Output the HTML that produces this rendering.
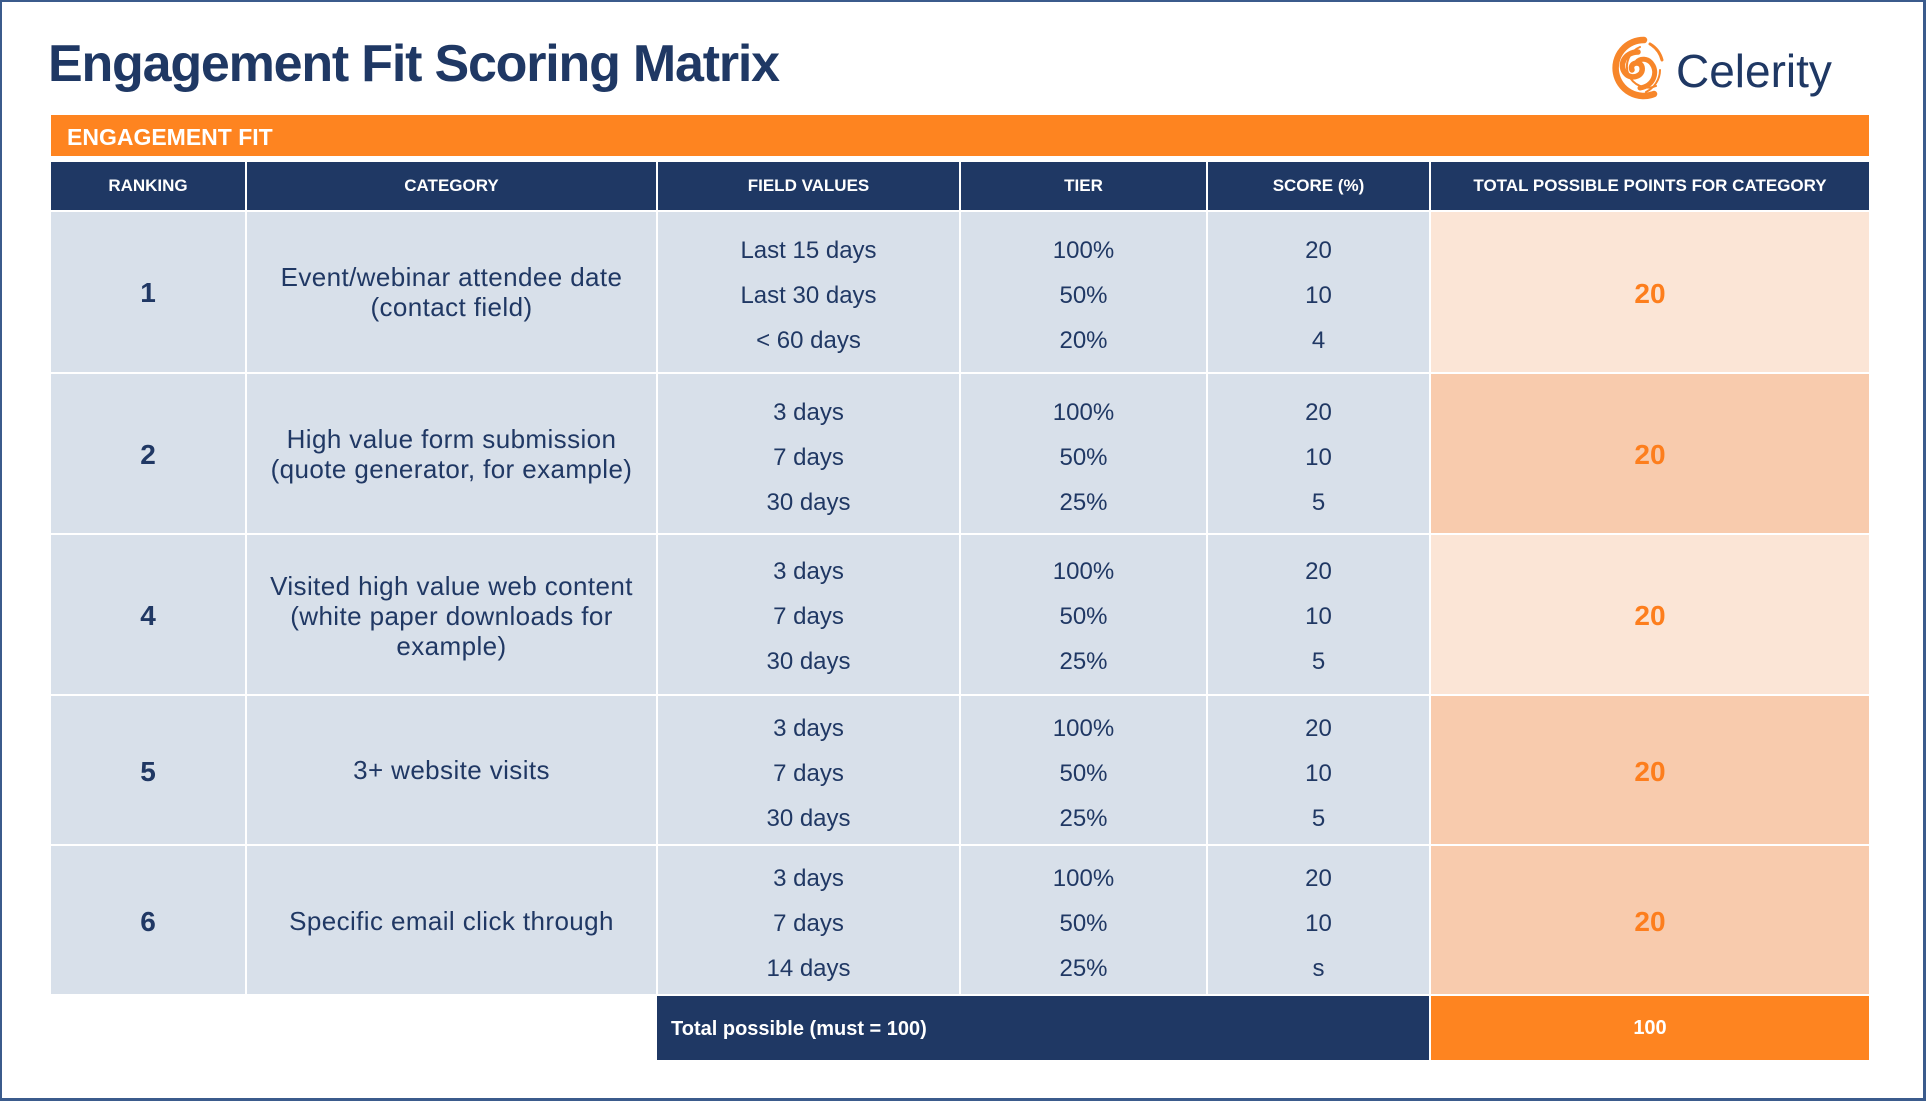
<!DOCTYPE html>
<html><head><meta charset="utf-8">
<style>
*{margin:0;padding:0;box-sizing:border-box}
html,body{width:1926px;height:1101px;overflow:hidden;background:#fff}
body{position:relative;font-family:"Liberation Sans",Arial,sans-serif;color:#203864}
.a{position:absolute}
.frame{left:0;top:0;width:1926px;height:1101px;border-top:2px solid #3b5b8c;border-left:2px solid #3b5b8c;border-right:3px solid #3b5b8c;border-bottom:3px solid #3b5b8c}
.title{left:48px;top:38px;font-size:52px;line-height:52px;font-weight:bold;color:#1f3864;letter-spacing:-1.2px;white-space:nowrap}
.logo{left:1676px;top:48px;font-size:46px;line-height:46px;color:#1f3864;white-space:nowrap}
.bar{left:51px;top:115px;width:1818px;height:41px;background:#fe8420}
.bartxt{left:67px;top:126px;font-size:23px;line-height:23px;font-weight:bold;color:#fff;white-space:nowrap}
.hd{top:162px;height:48px;background:#1f3864;color:#fff;font-weight:bold;font-size:17px;display:flex;align-items:center;justify-content:center;white-space:nowrap}
.lb{background:#d8e0ea}
.pk1{background:#fbe5d6}
.pk2{background:#f8cbad}
.rk{font-size:28px;font-weight:bold;text-align:center;height:40px;line-height:40px}
.cat{font-size:26px;text-align:center;line-height:30px;letter-spacing:0.4px;white-space:nowrap}
.ln{font-size:24px;text-align:center;line-height:45px;white-space:nowrap}
.or{font-size:28px;font-weight:bold;color:#fd7e1d;text-align:center;height:40px;line-height:40px}
</style></head><body>
<div class="a frame"></div>
<div class="a title">Engagement Fit Scoring Matrix</div>
<svg class="a" style="left:1604px;top:34px" width="66" height="68" viewBox="0 0 66 68">
  <g fill="none" stroke="#f7862a" stroke-linecap="round">
    <path d="M40 6 A28 28 0 1 0 50 60" stroke-width="6.5"/>
    <path d="M46 10 A26 26 0 0 1 58 26" stroke-width="3"/>
    <path d="M36 13 A21 21 0 1 0 52 52" stroke-width="2"/>
    <path d="M34 18 C20 18 14 32 22 40 C28 46 40 42 38 33 C36 26 25 29 28 36" stroke-width="5.5"/>
    <path d="M36 54 C50 52 54 38 48 30 C44 24 36 24 33 28" stroke-width="5"/>
    <path d="M56 36 C56 46 50 54 42 58" stroke-width="2"/>
  </g>
</svg>
<div class="a logo">Celerity</div>

<div class="a bar"></div>
<div class="a bartxt">ENGAGEMENT FIT</div>

<div class="a hd" style="left:51px;width:194px">RANKING</div>
<div class="a hd" style="left:247px;width:409px">CATEGORY</div>
<div class="a hd" style="left:658px;width:301px">FIELD VALUES</div>
<div class="a hd" style="left:961px;width:245px">TIER</div>
<div class="a hd" style="left:1208px;width:221px">SCORE (%)</div>
<div class="a hd" style="left:1431px;width:438px">TOTAL POSSIBLE POINTS FOR CATEGORY</div>

<!-- Row 1 -->
<div class="a lb" style="left:51px;top:212px;width:194px;height:160px"></div>
<div class="a lb" style="left:247px;top:212px;width:409px;height:160px"></div>
<div class="a lb" style="left:658px;top:212px;width:301px;height:160px"></div>
<div class="a lb" style="left:961px;top:212px;width:245px;height:160px"></div>
<div class="a lb" style="left:1208px;top:212px;width:221px;height:160px"></div>
<div class="a pk1" style="left:1431px;top:212px;width:438px;height:160px"></div>
<div class="a rk" style="left:51px;width:194px;top:273px">1</div>
<div class="a cat" style="left:247px;width:409px;top:262px">Event/webinar attendee date<br>(contact field)</div>
<div class="a ln" style="left:658px;width:301px;top:228px">Last 15 days<br>Last 30 days<br>&lt; 60 days</div>
<div class="a ln" style="left:961px;width:245px;top:228px">100%<br>50%<br>20%</div>
<div class="a ln" style="left:1208px;width:221px;top:228px">20<br>10<br>4</div>
<div class="a or" style="left:1431px;width:438px;top:274px">20</div>

<!-- Row 2 -->
<div class="a lb" style="left:51px;top:374px;width:194px;height:159px"></div>
<div class="a lb" style="left:247px;top:374px;width:409px;height:159px"></div>
<div class="a lb" style="left:658px;top:374px;width:301px;height:159px"></div>
<div class="a lb" style="left:961px;top:374px;width:245px;height:159px"></div>
<div class="a lb" style="left:1208px;top:374px;width:221px;height:159px"></div>
<div class="a pk2" style="left:1431px;top:374px;width:438px;height:159px"></div>
<div class="a rk" style="left:51px;width:194px;top:435px">2</div>
<div class="a cat" style="left:247px;width:409px;top:424px">High value form submission<br>(quote generator, for example)</div>
<div class="a ln" style="left:658px;width:301px;top:390px">3 days<br>7 days<br>30 days</div>
<div class="a ln" style="left:961px;width:245px;top:390px">100%<br>50%<br>25%</div>
<div class="a ln" style="left:1208px;width:221px;top:390px">20<br>10<br>5</div>
<div class="a or" style="left:1431px;width:438px;top:435px">20</div>

<!-- Row 3 -->
<div class="a lb" style="left:51px;top:535px;width:194px;height:159px"></div>
<div class="a lb" style="left:247px;top:535px;width:409px;height:159px"></div>
<div class="a lb" style="left:658px;top:535px;width:301px;height:159px"></div>
<div class="a lb" style="left:961px;top:535px;width:245px;height:159px"></div>
<div class="a lb" style="left:1208px;top:535px;width:221px;height:159px"></div>
<div class="a pk1" style="left:1431px;top:535px;width:438px;height:159px"></div>
<div class="a rk" style="left:51px;width:194px;top:596px">4</div>
<div class="a cat" style="left:247px;width:409px;top:571px">Visited high value web content<br>(white paper downloads for<br>example)</div>
<div class="a ln" style="left:658px;width:301px;top:549px">3 days<br>7 days<br>30 days</div>
<div class="a ln" style="left:961px;width:245px;top:549px">100%<br>50%<br>25%</div>
<div class="a ln" style="left:1208px;width:221px;top:549px">20<br>10<br>5</div>
<div class="a or" style="left:1431px;width:438px;top:596px">20</div>

<!-- Row 4 -->
<div class="a lb" style="left:51px;top:696px;width:194px;height:148px"></div>
<div class="a lb" style="left:247px;top:696px;width:409px;height:148px"></div>
<div class="a lb" style="left:658px;top:696px;width:301px;height:148px"></div>
<div class="a lb" style="left:961px;top:696px;width:245px;height:148px"></div>
<div class="a lb" style="left:1208px;top:696px;width:221px;height:148px"></div>
<div class="a pk2" style="left:1431px;top:696px;width:438px;height:148px"></div>
<div class="a rk" style="left:51px;width:194px;top:752px">5</div>
<div class="a cat" style="left:247px;width:409px;top:755px">3+ website visits</div>
<div class="a ln" style="left:658px;width:301px;top:706px">3 days<br>7 days<br>30 days</div>
<div class="a ln" style="left:961px;width:245px;top:706px">100%<br>50%<br>25%</div>
<div class="a ln" style="left:1208px;width:221px;top:706px">20<br>10<br>5</div>
<div class="a or" style="left:1431px;width:438px;top:752px">20</div>

<!-- Row 5 -->
<div class="a lb" style="left:51px;top:846px;width:194px;height:148px"></div>
<div class="a lb" style="left:247px;top:846px;width:409px;height:148px"></div>
<div class="a lb" style="left:658px;top:846px;width:301px;height:148px"></div>
<div class="a lb" style="left:961px;top:846px;width:245px;height:148px"></div>
<div class="a lb" style="left:1208px;top:846px;width:221px;height:148px"></div>
<div class="a pk2" style="left:1431px;top:846px;width:438px;height:148px"></div>
<div class="a rk" style="left:51px;width:194px;top:902px">6</div>
<div class="a cat" style="left:247px;width:409px;top:906px">Specific email click through</div>
<div class="a ln" style="left:658px;width:301px;top:856px">3 days<br>7 days<br>14 days</div>
<div class="a ln" style="left:961px;width:245px;top:856px">100%<br>50%<br>25%</div>
<div class="a ln" style="left:1208px;width:221px;top:856px">20<br>10<br>s</div>
<div class="a or" style="left:1431px;width:438px;top:902px">20</div>

<!-- Total -->
<div class="a" style="left:657px;top:996px;width:772px;height:64px;background:#1f3864"></div>
<div class="a" style="left:671px;top:1014px;font-size:20px;line-height:30px;font-weight:bold;color:#fff;white-space:nowrap">Total possible (must = 100)</div>
<div class="a" style="left:1431px;top:996px;width:438px;height:64px;background:#fe8420;color:#fff;font-weight:bold;font-size:20px;line-height:64px;text-align:center">100</div>
</body></html>
